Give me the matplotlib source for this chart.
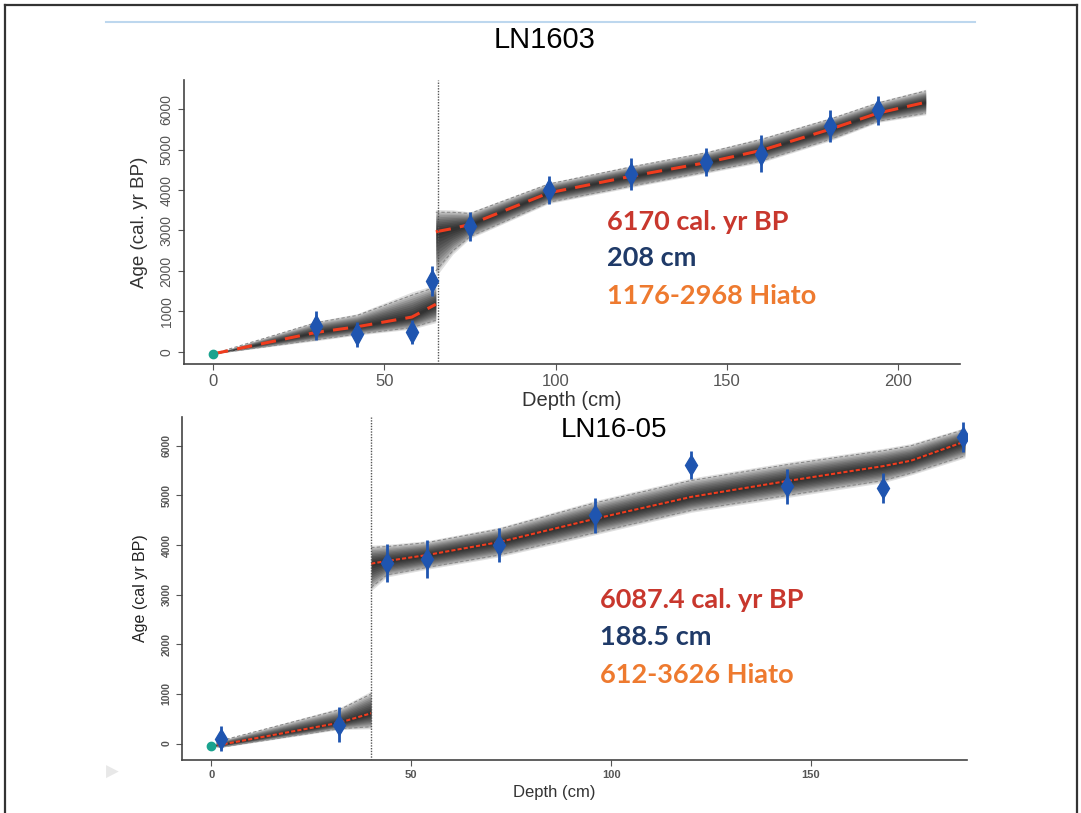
import numpy as np
import matplotlib.pyplot as plt
from matplotlib.lines import Line2D

# ---- LN1603 age-depth model ----
a_depth1 = [0, 30, 42, 58, 65]
a_mean1 = [-50, 480, 620, 860, 1176]
a_up1 = [-50, 720, 900, 1400, 1600]
a_lo1 = [-50, 300, 440, 600, 780]
a_depth2 = [65, 70, 75, 98, 122, 144, 160, 180, 194, 208]
a_mean2 = [2968, 3050, 3150, 3930, 4340, 4680, 4980, 5500, 5900, 6170]
a_up2 = [3450, 3450, 3420, 4150, 4570, 4920, 5250, 5750, 6150, 6450]
a_lo2 = [2000, 2500, 2850, 3700, 4100, 4450, 4720, 5250, 5700, 5900]
a_date_depth = [30, 42, 58, 64, 75, 98, 122, 144, 160, 180, 194]
a_date_age = [650, 430, 490, 1750, 3100, 4000, 4400, 4700, 4900, 5580, 5970]
a_date_err = [350, 300, 300, 380, 350, 350, 400, 350, 450, 400, 350]
a_hiatus = 65.5

# ---- LN16-05 age-depth model ----
b_depth1 = [0, 2.5, 32, 40]
b_mean1 = [-50, -20, 420, 612]
b_up1 = [-50, 60, 680, 1000]
b_lo1 = [-50, -70, 300, 340]
b_depth2 = [40, 44, 54, 72, 96, 120, 144, 168, 175, 188.5]
b_mean2 = [3626, 3680, 3800, 4060, 4530, 4970, 5290, 5590, 5700, 6087]
b_up2 = [3950, 3970, 4050, 4320, 4850, 5300, 5620, 5900, 6000, 6330]
b_lo2 = [3150, 3400, 3550, 3800, 4250, 4700, 5000, 5300, 5450, 5800]
b_date_depth = [2.5, 32, 44, 54, 72, 96, 120, 144, 168, 188]
b_date_age = [100, 380, 3640, 3720, 4000, 4600, 5620, 5180, 5150, 6170]
b_date_err = [250, 350, 380, 380, 350, 350, 280, 350, 300, 300]
b_hiatus = 40

surface_age = -50

plt.rcParams['font.family'] = ['Liberation Sans', 'DejaVu Sans']

fig = plt.figure(figsize=(10.81, 8.13), dpi=100)


def px(x, y):
    return x / 1081, 1 - y / 813


def segment(ax, d, m, up, lo, line_style, line_w):
    d, m, up, lo = map(np.asarray, (d, m, up, lo))
    for k in np.linspace(1.15, 0.1, 12):
        ax.fill_between(d, m - k * (m - lo), m + k * (up - m), color='black',
                        alpha=0.12, lw=0, zorder=1)
    ax.plot(d, up, color='#8a8a8a', lw=0.8, ls=(0, (3, 2)), zorder=2)
    ax.plot(d, lo, color='#8a8a8a', lw=0.8, ls=(0, (3, 2)), zorder=2)
    ax.plot(d, m, color='#f03c1e', lw=line_w, ls=line_style, zorder=3)


def style(ax, ytick_size, xtick_size, bold):
    for s in ['top', 'right']:
        ax.spines[s].set_visible(False)
    for s in ['left', 'bottom']:
        ax.spines[s].set_color('#444444')
        ax.spines[s].set_linewidth(1.2)
    ax.set_yticks([0, 1000, 2000, 3000, 4000, 5000, 6000])
    w = 'bold' if bold else 'normal'
    for lab in ax.get_yticklabels():
        lab.set_rotation(90)
        lab.set_va('center')
        lab.set_fontsize(ytick_size)
        lab.set_fontweight(w)
        lab.set_color('#333333')
    for lab in ax.get_xticklabels():
        lab.set_fontsize(xtick_size)
        lab.set_fontweight(w)
        lab.set_color('#333333')
    ax.tick_params(colors='#555555', length=4)


# top panel
l, b = px(184, 364)
r, t = px(960, 80)
ax1 = fig.add_axes([l, b, r - l, t - b])
segment(ax1, a_depth1, a_mean1, a_up1, a_lo1, (0, (5, 3)), 2.2)
segment(ax1, a_depth2, a_mean2, a_up2, a_lo2, (0, (5, 3)), 2.2)
ax1.axvline(a_hiatus, color='#555555', lw=1, ls=(0, (1, 1)), zorder=4)
ax1.errorbar(a_date_depth, a_date_age, yerr=a_date_err, fmt='d', color='#1f55b0',
             markersize=11, elinewidth=2, capsize=0, zorder=5)
ax1.plot([0], [surface_age], 'o', color='#1aa38f', markersize=6, zorder=5)
ax1.set_xlim(-8.5, 218)
ax1.set_ylim(-300, 6720)
ax1.set_xticks([0, 50, 100, 150, 200])
style(ax1, 10, 12, False)
ax1.set_ylabel('Age (cal. yr BP)', fontsize=13.5, color='#333333', labelpad=8)
ax1.set_xlabel('Depth (cm)', fontsize=14.5, color='#333333', labelpad=1)

# bottom panel
l, b = px(182, 760)
r, t = px(967, 417)
ax2 = fig.add_axes([l, b, r - l, t - b])
segment(ax2, b_depth1, b_mean1, b_up1, b_lo1, (0, (2, 1)), 1.5)
segment(ax2, b_depth2, b_mean2, b_up2, b_lo2, (0, (2, 1)), 1.5)
ax2.axvline(b_hiatus, color='#555555', lw=1, ls=(0, (1, 1)), zorder=4)
ax2.errorbar(b_date_depth, b_date_age, yerr=b_date_err, fmt='d', color='#1f55b0',
             markersize=10, elinewidth=2, capsize=0, zorder=5)
ax2.plot([0], [surface_age], 'o', color='#1aa38f', markersize=6, zorder=5)
ax2.set_xlim(-7.3, 189)
ax2.set_ylim(-330, 6580)
ax2.set_xticks([0, 50, 100, 150])
style(ax2, 7.5, 8, True)
ax2.set_ylabel('Age (cal yr BP)', fontsize=11.5, color='#222222', labelpad=10)
ax2.set_xlabel('Depth (cm)', fontsize=12, color='#333333')
ax2.xaxis.set_label_coords(0.474, -0.073)

# titles
fig.text(*px(545, 40), 'LN1603', fontsize=21, ha='center', va='center')
fig.text(*px(614, 430), 'LN16-05', fontsize=20, ha='center', va='center')

# annotation blocks
ann = dict(fontsize=19.5, fontweight='bold', family=['Lato', 'DejaVu Sans'],
           ha='left', va='center')
fig.text(*px(607, 222), '6170 cal. yr BP', color='#c8372d', **ann)
fig.text(*px(607, 258), '208 cm', color='#1f3a68', **ann)
fig.text(*px(607, 296), '1176-2968 Hiato', color='#ee7a2f', **ann)
fig.text(*px(600, 600), '6087.4 cal. yr BP', color='#c8372d', **ann)
fig.text(*px(600, 637), '188.5 cm', color='#1f3a68', **ann)
fig.text(*px(600, 675), '612-3626 Hiato', color='#ee7a2f', **ann)

# faint slide-navigation arrow
fig.text(*px(112, 772), '\u25B6', fontsize=12, color='#e8e8e8', ha='center', va='center')

# page frame and header rule
fig.add_artist(Line2D([5 / 1081, 1077 / 1081], [1 - 5 / 813] * 2, color='#333333', lw=1.6))
fig.add_artist(Line2D([5 / 1081] * 2, [0, 1 - 5 / 813], color='#333333', lw=1.6))
fig.add_artist(Line2D([1077 / 1081] * 2, [0, 1 - 5 / 813], color='#333333', lw=1.6))
fig.add_artist(Line2D([106 / 1081, 975 / 1081], [1 - 22 / 813] * 2, color='#bdd7ee', lw=1.5))

fig.savefig('out.png', dpi=100)
